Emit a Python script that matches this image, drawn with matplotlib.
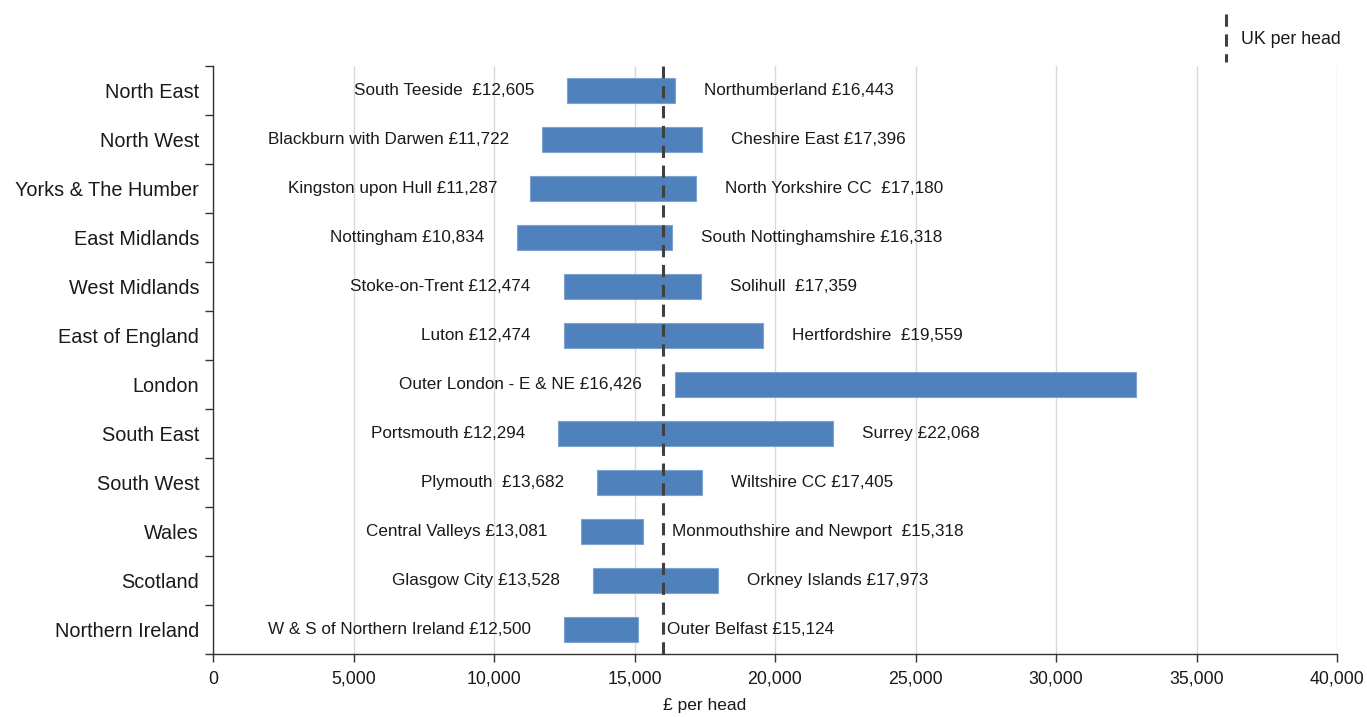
import matplotlib
matplotlib.use("Agg")
import matplotlib.pyplot as plt
from matplotlib.lines import Line2D
import numpy as np

plt.rcParams['font.family'] = ['Liberation Sans', 'DejaVu Sans']

regions = ["North East", "North West", "Yorks & The Humber", "East Midlands",
           "West Midlands", "East of England", "London", "South East",
           "South West", "Wales", "Scotland", "Northern Ireland"]
min_vals = [12605, 11722, 11287, 10834, 12474, 12474, 16426, 12294, 13682, 13081, 13528, 12500]
max_vals = [16443, 17396, 17180, 16318, 17359, 19559, 32830, 22068, 17405, 15318, 17973, 15124]
min_labels = ["South Teeside  £12,605", "Blackburn with Darwen £11,722",
              "Kingston upon Hull £11,287", "Nottingham £10,834",
              "Stoke-on-Trent £12,474", "Luton £12,474",
              "Outer London - E & NE £16,426", "Portsmouth £12,294",
              "Plymouth  £13,682", "Central Valleys £13,081",
              "Glasgow City £13,528", "W & S of Northern Ireland £12,500"]
max_labels = ["Northumberland £16,443", "Cheshire East £17,396",
              "North Yorkshire CC  £17,180", "South Nottinghamshire £16,318",
              "Solihull  £17,359", "Hertfordshire  £19,559", "",
              "Surrey £22,068", "Wiltshire CC £17,405",
              "Monmouthshire and Newport  £15,318", "Orkney Islands £17,973",
              "Outer Belfast £15,124"]
uk_per_head = 16010
xticks = [0, 5000, 10000, 15000, 20000, 25000, 30000, 35000, 40000]

txt_col = '#1a1a1a'
fig = plt.figure(figsize=(13.67, 7.17), dpi=100)
ax = fig.add_axes([213/1367, 1-654/717, (1337-213)/1367, (654-66)/717])

y = np.arange(len(regions))
widths = np.array(max_vals) - np.array(min_vals)
ax.barh(y, widths, left=min_vals, height=0.53, color='#4F81BD',
        edgecolor='#7FA3D0', linewidth=0.8, zorder=3)

for yi, lo, hi, ll, hl in zip(y, min_vals, max_vals, min_labels, max_labels):
    ax.annotate(ll, (lo, yi), xytext=(-33, 0), textcoords='offset pixels',
                ha='right', va='center', fontsize=12.3, color=txt_col, zorder=5)
    if hl:
        ax.annotate(hl, (hi, yi), xytext=(29, 0), textcoords='offset pixels',
                    ha='left', va='center', fontsize=12.3, color=txt_col, zorder=5)

ax.axvline(uk_per_head, color='#404040', linestyle=(0, (4, 2.5)), linewidth=2.2, zorder=4)

ax.set_xlim(0, 40000)
ax.set_ylim(len(regions) - 0.5, -0.5)
ax.set_xticks(xticks)
ax.set_xticklabels([f"{v:,}" for v in xticks], fontsize=12.8, color=txt_col)
ax.xaxis.grid(True, color='#d9d9d9', linewidth=1.0, zorder=0)
ax.set_axisbelow(True)

ax.set_yticks(y)
ax.set_yticklabels(regions, fontsize=14.3, color=txt_col)
ax.tick_params(axis='y', which='major', length=0, pad=10)
ax.set_yticks(np.arange(-0.5, len(regions) + 0.5, 1), minor=True)
ax.tick_params(axis='y', which='minor', length=6, width=1, color='#333333')
ax.tick_params(axis='x', which='major', length=6, width=1, color='#333333', pad=6)

for s in ['top', 'right']:
    ax.spines[s].set_visible(False)
for s in ['left', 'bottom']:
    ax.spines[s].set_color('#333333')
    ax.spines[s].set_linewidth(1.0)

ax.set_xlabel("£ per head", fontsize=12.5, color=txt_col)
ax.xaxis.set_label_coords((705-213)/1124, -0.075)

# legend
fig.add_artist(Line2D([1226/1367, 1226/1367], [1-14/717, 1-62/717], transform=fig.transFigure,
                      color='#404040', linestyle=(0, (4, 2.5)), linewidth=2.2))
fig.text(1241/1367, 1-40/717, "UK per head", fontsize=12.8, color=txt_col, va='center', ha='left')

fig.savefig("out.png", dpi=100)
